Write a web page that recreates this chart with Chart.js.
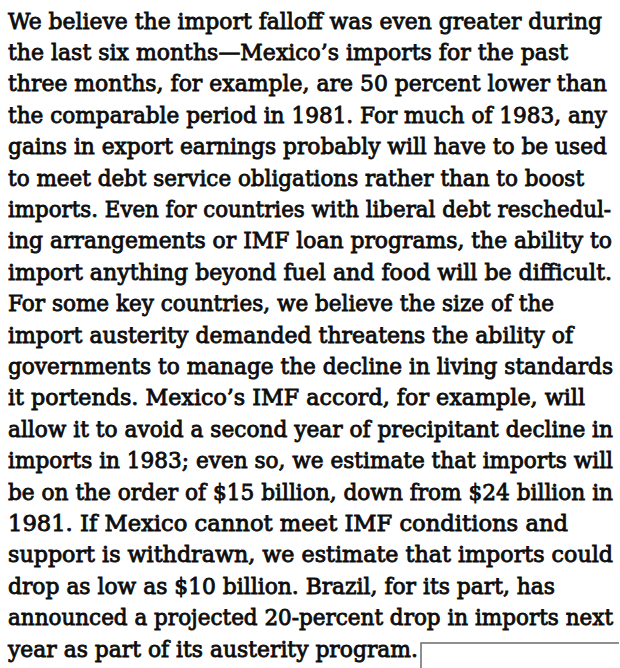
<!DOCTYPE html>
<html>
<head>
<meta charset="utf-8">
<script src="https://cdn.jsdelivr.net/npm/chart.js@4.4.1/dist/chart.umd.min.js"></script>
<style>
  html, body { margin: 0; padding: 0; background: #fff; }
  #page { position: relative; width: 620px; height: 668px; overflow: hidden; background: #fff; }
  .ln { position: absolute; left: 8px; white-space: pre; color: #0d0d0d; font-family: "DejaVu Serif", serif; font-weight: normal; transform-origin: 0 0; -webkit-text-stroke: 0.85px #0d0d0d; }
  #boxWrap { position: absolute; left: 420px; top: 642px; width: 200px; height: 40px; }
</style>
</head>
<body>
<div id="page">
  <div id="text"></div>
  <div id="boxWrap"><canvas id="box" width="200" height="40"></canvas></div>
</div>
<script>
// Text lines of the paragraph, as printed
const lines = [
  "We believe the import falloff was even greater during",
  "the last six months\u2014Mexico\u2019s imports for the past",
  "three months, for example, are 50 percent lower than",
  "the comparable period in 1981. For much of 1983, any",
  "gains in export earnings probably will have to be used",
  "to meet debt service obligations rather than to boost",
  "imports. Even for countries with liberal debt reschedul-",
  "ing arrangements or IMF loan programs, the ability to",
  "import anything beyond fuel and food will be difficult.",
  "For some key countries, we believe the size of the",
  "import austerity demanded threatens the ability of",
  "governments to manage the decline in living standards",
  "it portends. Mexico\u2019s IMF accord, for example, will",
  "allow it to avoid a second year of precipitant decline in",
  "imports in 1983; even so, we estimate that imports will",
  "be on the order of $15 billion, down from $24 billion in",
  "1981. If Mexico cannot meet IMF conditions and",
  "support is withdrawn, we estimate that imports could",
  "drop as low as $10 billion. Brazil, for its part, has",
  "announced a projected 20-percent drop in imports next",
  "year as part of its austerity program."
];
// Printed right end of each line (as read from the page)
const lineEnds = [602, 568, 607, 607, 607, 584, 611, 612, 612, 554, 573, 613, 585, 613, 613, 613, 568, 613, 555, 613, 418];
// Empty figure frame below the text (no series values shown)
const categories = [];
const values = [];

const fontFamily = '"DejaVu Serif", serif';
const fontSize = 22;
const firstBaseline = 28.5, pitch = 31.4, left = 8;

const mc = document.createElement('canvas').getContext('2d');
mc.font = fontSize + 'px ' + fontFamily;
const container = document.getElementById('text');
lines.forEach((t, i) => {
  const m = mc.measureText(t);
  const A = m.fontBoundingBoxAscent, D = m.fontBoundingBoxDescent;
  const d = document.createElement('div');
  d.className = 'ln';
  d.textContent = t;
  d.style.fontSize = fontSize + 'px';
  d.style.lineHeight = (A + D) + 'px';
  d.style.left = left + 'px';
  d.style.top = (firstBaseline + i * pitch - A) + 'px';
  const sx = (lineEnds[i] - left) / m.width;
  d.style.transform = 'scaleX(' + sx.toFixed(4) + ')';
  container.appendChild(d);
});

const frame = {
  id: 'frame',
  afterDraw(chart) {
    const c = chart.ctx;
    c.save();
    c.strokeStyle = '#6b6b6b';
    c.lineWidth = 1.5;
    c.beginPath();
    c.moveTo(1, chart.height);
    c.lineTo(1, 1);
    c.lineTo(chart.width - 1, 1);
    c.stroke();
    c.restore();
  }
};
new Chart(document.getElementById('box'), {
  type: 'bar',
  data: { labels: categories, datasets: [{ data: values }] },
  options: {
    responsive: false, animation: false, maintainAspectRatio: false,
    plugins: { legend: { display: false }, tooltip: { enabled: false } },
    scales: { x: { display: false }, y: { display: false } }
  },
  plugins: [frame]
});
</script>
</body>
</html>
